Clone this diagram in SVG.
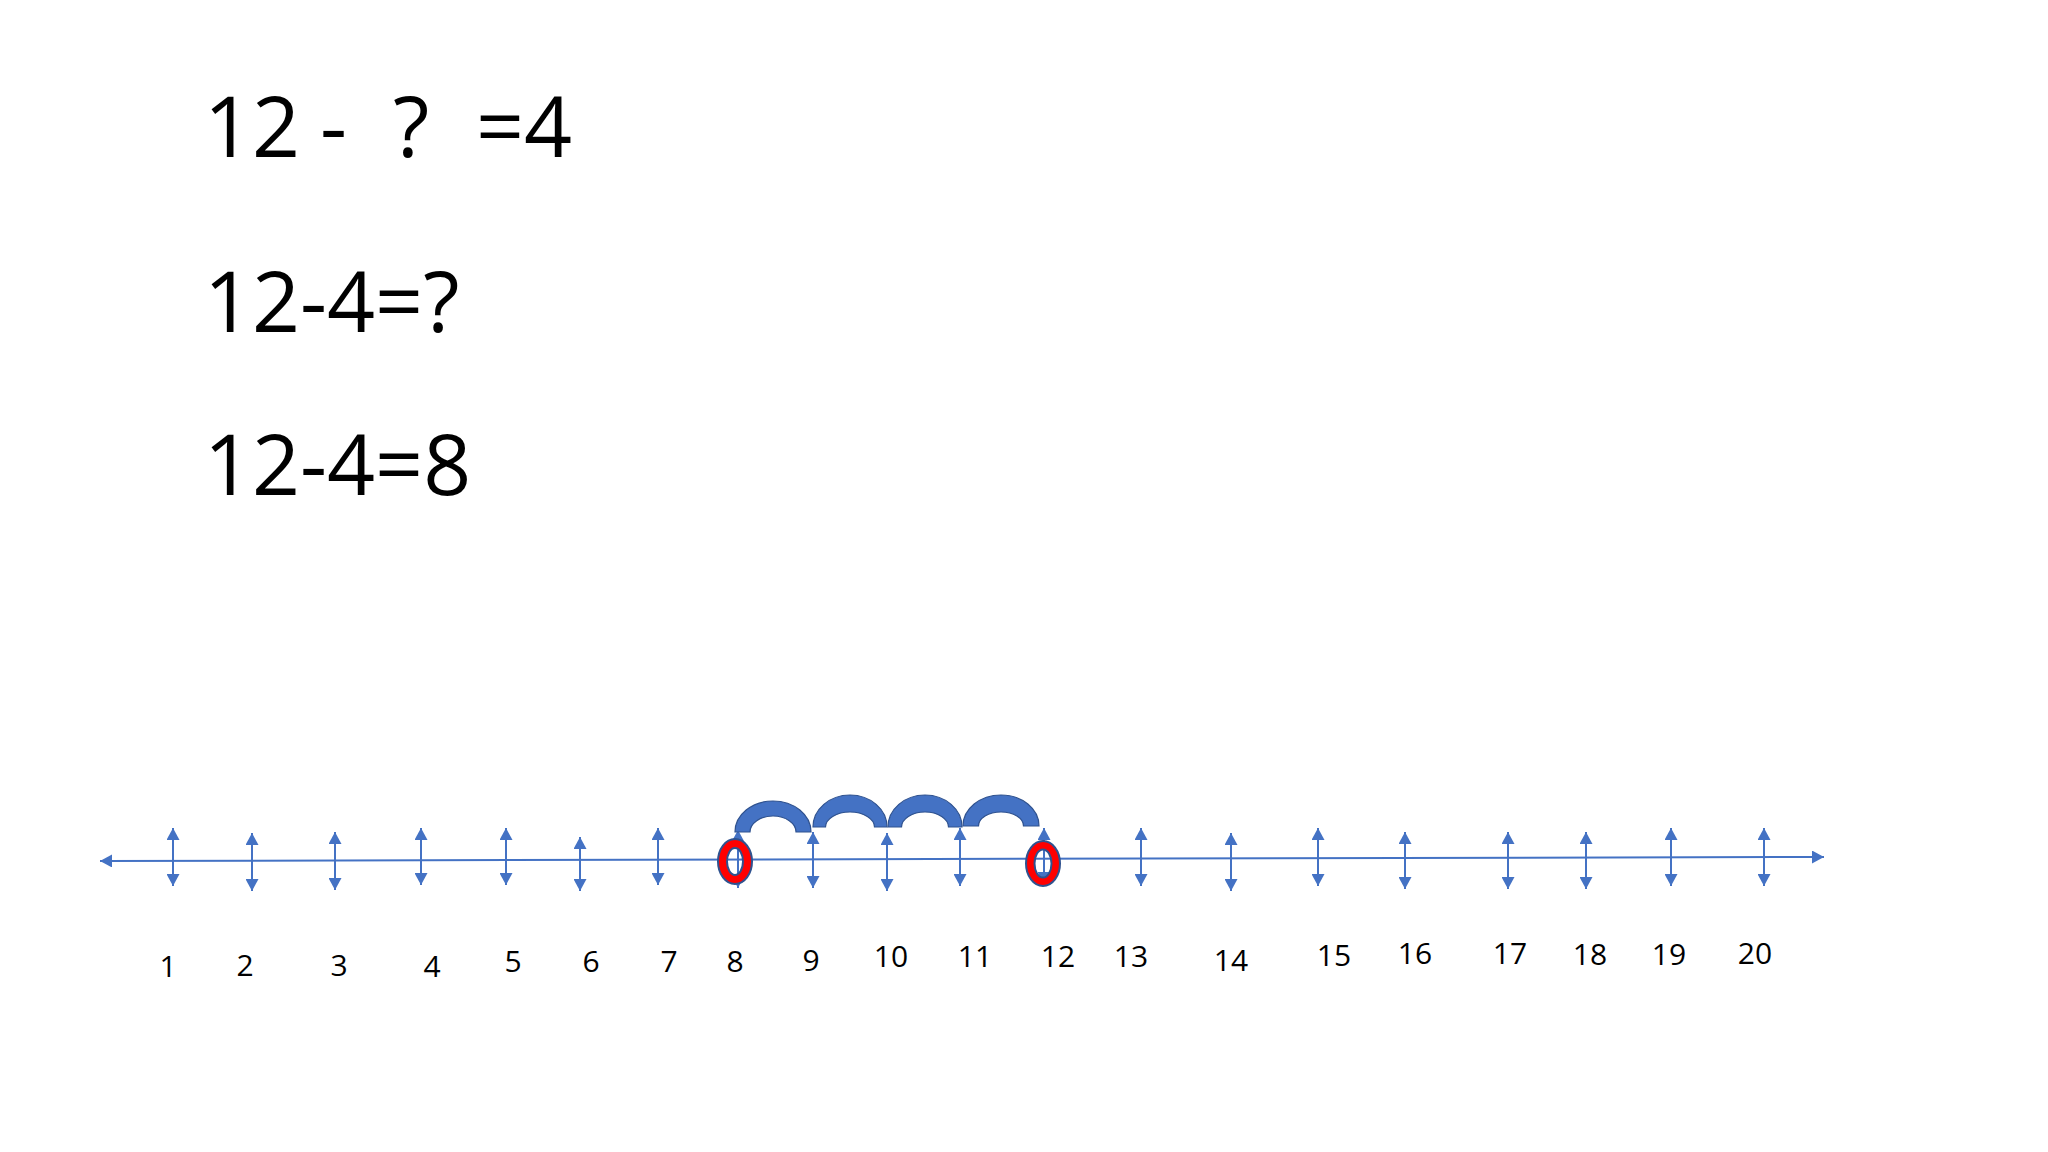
<svg xmlns="http://www.w3.org/2000/svg" width="2048" height="1152" viewBox="0 0 2048 1152">
  <style>
    .eq { font-family: "Open Sans", "Liberation Sans", sans-serif; font-size: 84px; fill: #000; }
    .lbl { font-family: "Open Sans", "Liberation Sans", sans-serif; font-size: 30px; fill: #000; text-anchor: middle; }
    .ax { stroke: #4472C4; stroke-width: 2; fill: none; marker-start: url(#ah); marker-end: url(#ah); }
    .jump { fill: #4472C4; stroke: #2F528F; stroke-width: 1.2; }
    .ring { fill: #FF0000; fill-rule: evenodd; stroke: #2F528F; stroke-width: 2; }
  </style>
  <defs>
    <marker id="ah" markerUnits="userSpaceOnUse" markerWidth="13" markerHeight="13" refX="12" refY="6.5" orient="auto-start-reverse" viewBox="0 0 13 13">
      <path d="M0,0 L12,6.5 L0,13 Z" fill="#4472C4"/>
    </marker>
  </defs>
  <rect x="0" y="0" width="2048" height="1152" fill="#FFFFFF"/>

  <g id="equations">
    <text class="eq" x="204" y="157">12</text>
    <text class="eq" x="320" y="157">-</text>
    <text class="eq" x="393" y="157">?</text>
    <text class="eq" x="476" y="157">=4</text>
    <text class="eq" x="204" y="332">12-4=?</text>
    <text class="eq" x="204" y="495">12-4=8</text>
  </g>

  <g id="connectors">
    <line id="axis" class="ax" x1="100" y1="861" x2="1824" y2="857"/>
    <line class="ax" x1="173" y1="828" x2="173" y2="886"/>
    <line class="ax" x1="252" y1="833" x2="252" y2="891"/>
    <line class="ax" x1="335" y1="832" x2="335" y2="890"/>
    <line class="ax" x1="421" y1="828" x2="421" y2="885"/>
    <line class="ax" x1="506" y1="828" x2="506" y2="885"/>
    <line class="ax" x1="580" y1="837" x2="580" y2="891"/>
    <line class="ax" x1="658" y1="828" x2="658" y2="885"/>
    <line class="ax" x1="738" y1="830" x2="738" y2="888"/>
    <line class="ax" x1="813" y1="832" x2="813" y2="888"/>
    <line class="ax" x1="887" y1="833" x2="887" y2="891"/>
    <line class="ax" x1="960" y1="828" x2="960" y2="886"/>
    <line class="ax" x1="1044" y1="828" x2="1044" y2="884"/>
    <line class="ax" x1="1141" y1="828" x2="1141" y2="886"/>
    <line class="ax" x1="1231" y1="833" x2="1231" y2="891"/>
    <line class="ax" x1="1318" y1="828" x2="1318" y2="886"/>
    <line class="ax" x1="1405" y1="832" x2="1405" y2="889"/>
    <line class="ax" x1="1508" y1="832" x2="1508" y2="889"/>
    <line class="ax" x1="1586" y1="832" x2="1586" y2="889"/>
    <line class="ax" x1="1671" y1="828" x2="1671" y2="886"/>
    <line class="ax" x1="1764" y1="828" x2="1764" y2="886"/>
  </g>

  <g id="jumps">
    <path id="jump1" class="jump" d="M735,832 A38,31 0 0 1 811,832 L796,832 A23,16 0 0 0 750,832 Z"/>
    <path id="jump2" class="jump" d="M813,827 A37,32 0 0 1 887,827 L874.5,827 A24.5,15 0 0 0 825.5,827 Z"/>
    <path id="jump3" class="jump" d="M888,827 A37,32 0 0 1 962,827 L948.5,827 A23.5,15 0 0 0 901.5,827 Z"/>
    <path id="jump4" class="jump" d="M963,826 A38,31 0 0 1 1039,826 L1023.5,826 A22.5,14 0 0 0 978.5,826 Z"/>
  </g>

  <g id="markers">
    <path id="ring8" class="ring" d="M718,861.5 a17,22.5 0 1 0 34,0 a17,22.5 0 1 0 -34,0 Z M727,861.5 a8,13.5 0 1 0 16,0 a8,13.5 0 1 0 -16,0 Z"/>
    <path id="ring12" class="ring" d="M1026,863.5 a17,22.5 0 1 0 34,0 a17,22.5 0 1 0 -34,0 Z M1034.5,863.5 a8.5,14 0 1 0 17,0 a8.5,14 0 1 0 -17,0 Z"/>
  </g>

  <g id="labels">
    <text class="lbl" x="168" y="977">1</text>
    <text class="lbl" x="245" y="976">2</text>
    <text class="lbl" x="339" y="976">3</text>
    <text class="lbl" x="432" y="977">4</text>
    <text class="lbl" x="513" y="972">5</text>
    <text class="lbl" x="591" y="972">6</text>
    <text class="lbl" x="669" y="972">7</text>
    <text class="lbl" x="735" y="972">8</text>
    <text class="lbl" x="811" y="971">9</text>
    <text class="lbl" x="891" y="967">10</text>
    <text class="lbl" x="975" y="967">11</text>
    <text class="lbl" x="1058" y="967">12</text>
    <text class="lbl" x="1131" y="967">13</text>
    <text class="lbl" x="1231" y="971">14</text>
    <text class="lbl" x="1334" y="966">15</text>
    <text class="lbl" x="1415" y="964">16</text>
    <text class="lbl" x="1510" y="964">17</text>
    <text class="lbl" x="1590" y="965">18</text>
    <text class="lbl" x="1669" y="965">19</text>
    <text class="lbl" x="1755" y="964">20</text>
  </g>
</svg>
